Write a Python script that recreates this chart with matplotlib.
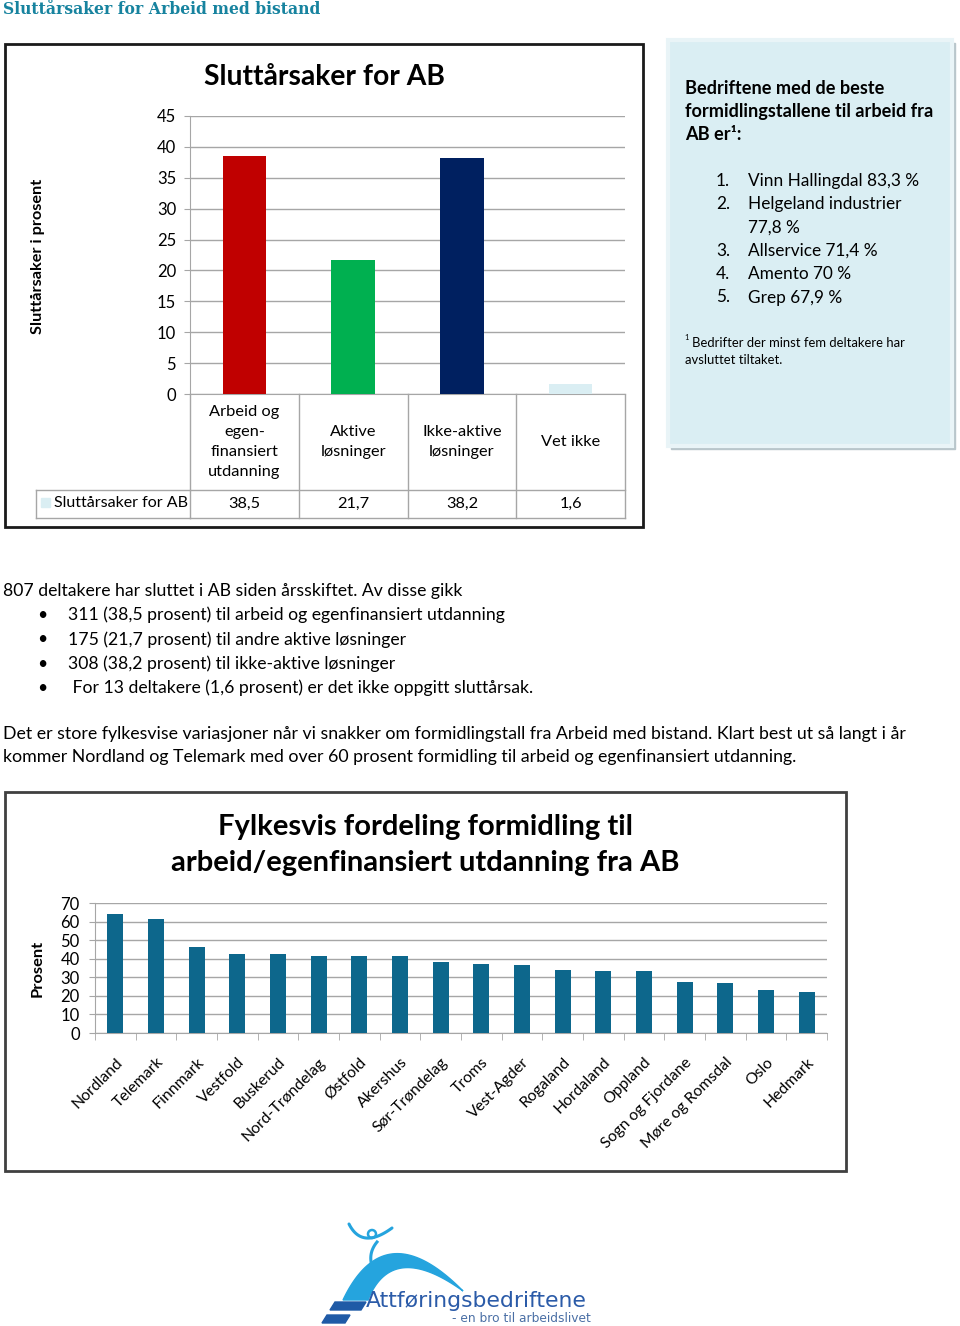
import numpy as np
import matplotlib
matplotlib.use("Agg")
import matplotlib.pyplot as plt
from matplotlib.patches import Rectangle, Polygon, Circle
from matplotlib.transforms import blended_transform_factory

# --- data -------------------------------------------------------------
ab_categories = ["Arbeid og\negen-\nfinansiert\nutdanning", "Aktive\nløsninger",
                 "Ikke-aktive\nløsninger", "Vet ikke"]
ab_values = [38.5, 21.7, 38.2, 1.6]
ab_series = "Sluttårsaker for AB"

fylker = ["Nordland", "Telemark", "Finnmark", "Vestfold", "Buskerud", "Nord-Trøndelag",
          "Østfold", "Akershus", "Sør-Trøndelag", "Troms", "Vest-Agder", "Rogaland",
          "Hordaland", "Oppland", "Sogn og Fjordane", "Møre og Romsdal", "Oslo", "Hedmark"]
fylke_values = [64.1, 61.4, 46.3, 42.7, 42.4, 41.6, 41.6, 41.5, 38.2, 37.0, 36.7,
                33.9, 33.2, 33.2, 27.5, 26.7, 23.2, 22.1]

best_firms = ["Vinn Hallingdal 83,3 %", "Helgeland industrier\n77,8 %",
              "Allservice 71,4 %", "Amento 70 %", "Grep 67,9 %"]

bullets = ["311 (38,5 prosent) til arbeid og egenfinansiert utdanning",
           "175 (21,7 prosent) til andre aktive løsninger",
           "308 (38,2 prosent) til ikke-aktive løsninger",
           " For 13 deltakere (1,6 prosent) er det ikke oppgitt sluttårsak."]

W, H = 960, 1326
FONT = "Lato"
plt.rcParams["font.family"] = [FONT, "DejaVu Sans"]

fig = plt.figure(figsize=(W / 100, H / 100), dpi=100)
page = fig.add_axes([0, 0, 1, 1], zorder=0)
page.set_xlim(0, W)
page.set_ylim(H, 0)
page.axis("off")
renderer = fig.canvas.get_renderer()


def rect(l, t, r, b):
    return [l / W, 1 - b / H, (r - l) / W, (b - t) / H]


def fit(x, y, s, width, **kw):
    # draw text and scale its size so it spans `width` pixels
    rot = kw.pop("rotation", 0)
    t = page.text(x, y, s, fontsize=12, **kw)
    bb = t.get_window_extent(renderer)
    t.set_fontsize(12 * width / bb.width)
    t.set_rotation(rot)
    return t.get_fontsize()


# --- page heading -----------------------------------------------------
fit(3, 10, "Sluttårsaker for Arbeid med bistand", 316, family="DejaVu Serif",
    weight="bold", color="#17839F", va="center")

# --- top chart --------------------------------------------------------
page.add_patch(Rectangle((5, 44), 638, 483, fill=False, ec="#1a1a1a", lw=2))
fit(324, 77, "Sluttårsaker for AB", 240, weight="bold", ha="center", va="center")
fit(38, 256, "Sluttårsaker i prosent", 154, weight="bold", ha="center", va="center",
    rotation=90)

ax1 = fig.add_axes(rect(190, 116, 625, 394), zorder=2)
ax1.patch.set_alpha(0)
xs = np.arange(len(ab_values))
ax1.bar(xs, ab_values, width=0.4, color=["#C00000", "#00B050", "#002060", "#DAEEF3"],
        zorder=3)
ax1.set_xlim(-0.5, len(ab_values) - 0.5)
ax1.set_ylim(0, 45)
ax1.set_yticks(np.arange(0, 46, 5))
ax1.set_xticks([])
ax1.tick_params(axis="y", labelsize=12, length=4, color="#A6A6A6", pad=6)
ax1.grid(axis="y", color="#A6A6A6", lw=1, zorder=0)
for s in ["top", "right"]:
    ax1.spines[s].set_visible(False)
for s in ["left", "bottom"]:
    ax1.spines[s].set_color("#A6A6A6")

# data table under the chart
tr = blended_transform_factory(ax1.transData, page.transData)
gray = "#A6A6A6"
for b in np.arange(len(ab_values) + 1) - 0.5:
    page.plot([b, b], [394, 518], color=gray, lw=1, transform=tr, clip_on=False)
for yy in (490, 518):
    page.plot([36, 190], [yy, yy], color=gray, lw=1, clip_on=False)
    page.plot([-0.5, len(ab_values) - 0.5], [yy, yy], color=gray, lw=1, transform=tr,
              clip_on=False)
page.plot([36, 36], [490, 518], color=gray, lw=1)
for i, (c, v) in enumerate(zip(ab_categories, ab_values)):
    page.text(i, 442, c, transform=tr, ha="center", va="center", fontsize=11.8,
              linespacing=1.55)
    page.text(i, 504, f"{v:.1f}".replace(".", ","), transform=tr, ha="center",
              va="center", fontsize=11.8)
page.add_patch(Rectangle((41, 498), 9, 9, color="#DAEEF3"))
fit(54, 503, ab_series, 133, va="center")

# --- side panel -------------------------------------------------------
page.add_patch(Rectangle((671, 43), 284, 406, color="#B9C6CB"))
page.add_patch(Rectangle((668, 40), 284, 406, fc="#DAEEF3", ec="#E9F4F7", lw=3))
hfs = fit(685, 111, "formidlingstallene til arbeid fra", 246, weight="bold",
          va="center")
page.text(685, 88, "Bedriftene med de beste", fontsize=hfs, weight="bold", va="center")
page.text(685, 134, "AB er\u00b9:", fontsize=hfs, weight="bold", va="center")
lfs = fit(748, 181, best_firms[0], 171, va="center")
yy = 181
for n, firm in enumerate(best_firms, start=1):
    page.text(716, yy, f"{n}.", fontsize=lfs, va="center")
    for part in firm.split("\n"):
        if yy != 181:
            page.text(748, yy, part, fontsize=lfs, va="center")
        yy += 23.3
ffs = fit(692, 343, "Bedrifter der minst fem deltakere har", 211, va="center")
page.text(684, 338, "1", fontsize=ffs * 0.6, va="center")
page.text(685, 360, "avsluttet tiltaket.", fontsize=ffs, va="center")

# --- body text --------------------------------------------------------
bfs = fit(3, 591, "807 deltakere har sluttet i AB siden årsskiftet. Av disse gikk", 456,
          va="center")
for k, line in enumerate(bullets):
    page.text(37, 615 + 24.3 * k, "\u2022", fontsize=bfs, va="center")
    page.text(68, 615 + 24.3 * k, line, fontsize=bfs, va="center")
pfs = fit(3, 734, "Det er store fylkesvise variasjoner når vi snakker om formidlingstall "
          "fra Arbeid med bistand. Klart best ut så langt i år", 899, va="center")
page.text(3, 757, "kommer Nordland og Telemark med over 60 prosent formidling til arbeid "
          "og egenfinansiert utdanning.", fontsize=pfs, va="center")

# --- bottom chart -----------------------------------------------------
page.add_patch(Rectangle((5, 792), 841, 379, fill=False, ec="#404040", lw=2))
tfs = fit(425, 863, "arbeid/egenfinansiert utdanning fra AB", 507, weight="bold",
          ha="center", va="center")
page.text(425, 827, "Fylkesvis fordeling formidling til", fontsize=tfs, weight="bold",
          ha="center", va="center")
fit(38, 968, "Prosent", 57, weight="bold", ha="center", va="center", rotation=90)

ax2 = fig.add_axes(rect(95, 903, 827, 1033), zorder=2)
ax2.patch.set_alpha(0)
x2 = np.arange(len(fylker))
ax2.bar(x2, fylke_values, width=0.39, color="#0D678C", zorder=3)
ax2.set_xlim(-0.5, len(fylker) - 0.5)
ax2.set_ylim(0, 70)
ax2.set_yticks(np.arange(0, 71, 10))
ax2.set_xticks(x2)
ax2.set_xticklabels(fylker, rotation=45, ha="right", rotation_mode="anchor")
ax2.set_xticks(np.arange(len(fylker) + 1) - 0.5, minor=True)
ax2.tick_params(axis="x", which="major", length=0, labelsize=11.3, pad=16)
ax2.tick_params(axis="x", which="minor", length=5, color=gray)
ax2.tick_params(axis="y", labelsize=12, length=4, color=gray, pad=7)
ax2.grid(axis="y", color=gray, lw=1, zorder=0)
for s in ["top", "right"]:
    ax2.spines[s].set_visible(False)
for s in ["left", "bottom"]:
    ax2.spines[s].set_color(gray)

# --- logo -------------------------------------------------------------
t = np.linspace(0, 1, 60)[:, None]


def bez(p0, p1, p2):
    p0, p1, p2 = map(np.array, (p0, p1, p2))
    return (1 - t) ** 2 * p0 + 2 * (1 - t) * t * p1 + t ** 2 * p2


arch = np.vstack([bez((343, 1300), (385, 1212), (463, 1291)),
                  bez((463, 1291), (392, 1240), (368, 1300))])
page.add_patch(Polygon(arch, closed=True, color="#25A4DE"))
page.add_patch(Circle((372, 1234), 4, fill=False, ec="#25A4DE", lw=1.8))
arm = bez((349, 1224), (362, 1250), (392, 1228))
page.plot(arm[:, 0], arm[:, 1], color="#25A4DE", lw=2.2, solid_capstyle="round")
body = bez((377, 1242), (368, 1253), (372, 1266))
page.plot(body[:, 0], body[:, 1], color="#25A4DE", lw=2.2)
page.add_patch(Polygon([(330, 1310), (361, 1310), (366, 1302), (335, 1302)],
                       color="#1F5AA6"))
page.add_patch(Polygon([(322, 1323), (345, 1323), (350, 1315), (327, 1315)],
                       color="#1F5AA6"))
fit(366, 1301, "Attføringsbedriftene", 220, family="DejaVu Sans", color="#2B5BA8",
    va="center")
fit(452, 1318, "- en bro til arbeidslivet", 138, family="DejaVu Sans",
    color="#4A6FA5", va="center")

fig.savefig("out.png", dpi=100)
